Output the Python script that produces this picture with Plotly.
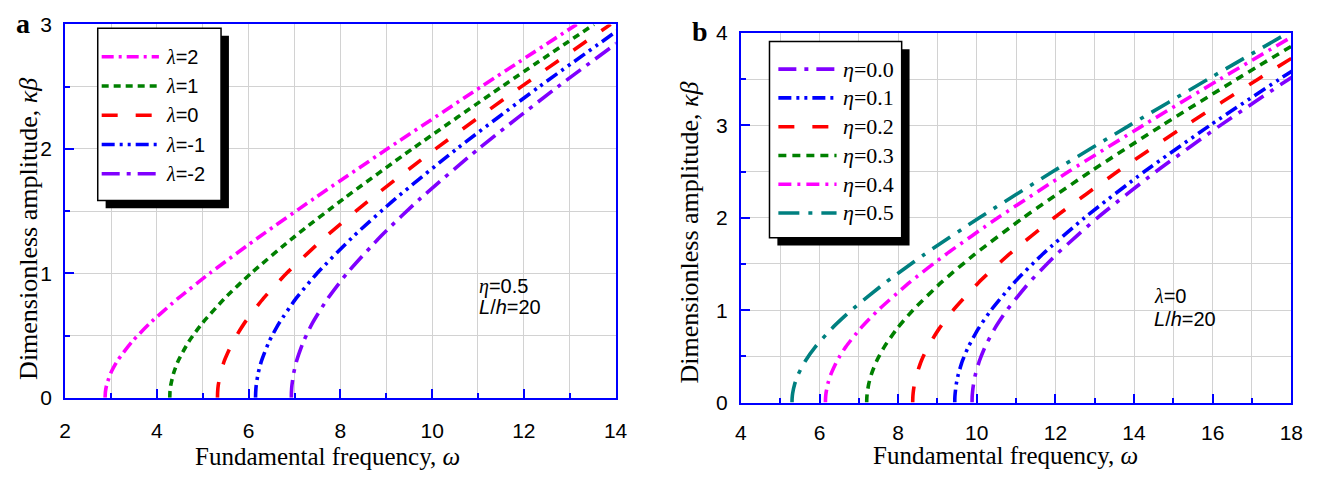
import plotly.graph_objects as go

W, H = 1325, 485

# ---------------- data ----------------
amp_a = [0, 0.05, 0.1, 0.2, 0.3, 0.45, 0.6, 0.8, 1.0, 1.3, 1.6, 2.0, 2.5, 3.0]
omega_lam_p2 = [2.870, 2.878, 2.902, 2.995, 3.144, 3.456, 3.850, 4.466, 5.151, 6.258, 7.422, 9.024, 11.073, 13.151]
omega_lam_p1 = [4.280, 4.285, 4.301, 4.365, 4.468, 4.693, 4.991, 5.480, 6.051, 7.017, 8.073, 9.567, 11.519, 13.528]
omega_lam_0 = [5.320, 5.324, 5.337, 5.388, 5.473, 5.658, 5.907, 6.326, 6.827, 7.696, 8.669, 10.075, 11.945, 13.893]
omega_lam_m1 = [6.150, 6.154, 6.165, 6.209, 6.283, 6.444, 6.664, 7.038, 7.492, 8.292, 9.202, 10.537, 12.337, 14.231]
omega_lam_m2 = [6.930, 6.933, 6.943, 6.983, 7.048, 7.192, 7.390, 7.729, 8.144, 8.886, 9.740, 11.010, 12.744, 14.585]
labels_a = ["λ=2", "λ=1", "λ=0", "λ=-1", "λ=-2"]

amp_b = [0, 0.05, 0.1, 0.2, 0.3, 0.45, 0.6, 0.8, 1.0, 1.3, 1.6, 2.0, 2.5, 3.0, 3.5, 4.0]
omega_eta_00 = [9.880, 9.882, 9.889, 9.917, 9.963, 10.066, 10.208, 10.456, 10.766, 11.338, 12.019, 13.070, 14.560, 16.196, 17.939, 19.759]
omega_eta_01 = [9.440, 9.442, 9.450, 9.479, 9.527, 9.634, 9.783, 10.041, 10.364, 10.956, 11.660, 12.740, 14.265, 15.932, 17.700, 19.543]
omega_eta_02 = [8.370, 8.373, 8.381, 8.414, 8.468, 8.589, 8.755, 9.043, 9.400, 10.049, 10.812, 11.969, 13.581, 15.322, 17.153, 19.049]
omega_eta_03 = [7.200, 7.203, 7.213, 7.251, 7.314, 7.453, 7.644, 7.972, 8.375, 9.098, 9.934, 11.182, 12.892, 14.715, 16.614, 18.565]
omega_eta_04 = [6.150, 6.154, 6.165, 6.209, 6.283, 6.444, 6.664, 7.038, 7.492, 8.292, 9.202, 10.537, 12.337, 14.231, 16.186, 18.183]
omega_eta_05 = [5.300, 5.304, 5.317, 5.369, 5.453, 5.639, 5.889, 6.309, 6.811, 7.682, 8.657, 10.064, 11.936, 13.885, 15.883, 17.913]
labels_b = ["η=0.0", "η=0.1", "η=0.2", "η=0.3", "η=0.4", "η=0.5"]

xticks_a = [2, 4, 6, 8, 10, 12, 14]
yticks_a = [0, 1, 2, 3]
xticks_b = [4, 6, 8, 10, 12, 14, 16, 18]
yticks_b = [0, 1, 2, 3, 4]

# ---------------- styles ----------------
MAGENTA, GREEN, RED, BLUE, VIOLET, TEAL = "#FF00FF", "#008000", "#FF0000", "#0000FF", "#8000FF", "#008080"
SANS = "Liberation Sans"
SERIF = "Liberation Serif"
LW = 3.6

style_a = [
    (MAGENTA, "12px,5px,3px,5px"),
    (GREEN, "7px,5px"),
    (RED, "16px,18px"),
    (BLUE, "13px,5px,3px,5px,3px,5px"),
    (VIOLET, "18px,7px,4px,7px"),
]
style_b = [
    (VIOLET, "18px,8px,4px,8px"),
    (BLUE, "13px,5px,3px,5px,3px,5px"),
    (RED, "16px,18px"),
    (GREEN, "8px,6px"),
    (MAGENTA, "13px,6px,3px,6px"),
    (TEAL, "21px,9px,4px,9px"),
]

def px(x):
    return x / W

def py(y):
    return 1 - y / H

fig = go.Figure()

series_a = [omega_lam_p2, omega_lam_p1, omega_lam_0, omega_lam_m1, omega_lam_m2]
for name, om, (col, dash) in zip(labels_a, series_a, style_a):
    fig.add_trace(go.Scatter(x=om, y=amp_a, mode="lines", name=name, xaxis="x", yaxis="y",
                             line=dict(color=col, width=LW, dash=dash, shape="spline", smoothing=0.6),
                             showlegend=False))

series_b = [omega_eta_00, omega_eta_01, omega_eta_02, omega_eta_03, omega_eta_04, omega_eta_05]
for name, om, (col, dash) in zip(labels_b, series_b, style_b):
    fig.add_trace(go.Scatter(x=om, y=amp_b, mode="lines", name=name, xaxis="x2", yaxis="y2",
                             line=dict(color=col, width=LW, dash=dash, shape="spline", smoothing=0.6),
                             showlegend=False))

def axis(rng, dom, ticks, minor_dtick, anchor, standoff):
    return dict(
        range=rng, domain=dom, anchor=anchor, tickvals=ticks,
        ticks="inside", ticklen=9, tickwidth=1.5, tickcolor=BLUE,
        showline=True, linecolor=BLUE, linewidth=2, mirror=True,
        showgrid=True, gridcolor="#d2d2d2", gridwidth=1, zeroline=False,
        minor=dict(dtick=minor_dtick, ticks="inside", ticklen=5, tickcolor=BLUE, tickwidth=1.5,
                   showgrid=True, gridcolor="#d2d2d2", gridwidth=1),
        tickfont=dict(family=SANS, size=21, color="black"),
        ticklabelstandoff=standoff,
    )

xa_dom = [px(60), px(618)]
ya_dom = [py(405), py(13)]
xb_dom = [px(745), px(1303)]
yb_dom = [py(410), py(22)]

xa = axis([2, 14], xa_dom, xticks_a, 1, "y", 13)
ya = axis([0, 3], ya_dom, yticks_a, 0.5, "x", 7)
xb = axis([4, 18], xb_dom, xticks_b, 1, "y2", 10)
yb = axis([0, 4], yb_dom, yticks_b, 0.5, "x2", 7)
xa["tick0"] = 2
xb["tick0"] = 4

shapes = []
annotations = []

def legend_box(x0, y0, x1, y1, off=8):
    shapes.append(dict(type="rect", xref="paper", yref="paper", layer="above",
                       x0=px(x0 + off), x1=px(x1 + off), y0=py(y1 + off), y1=py(y0 + off),
                       fillcolor="black", line=dict(width=0)))
    shapes.append(dict(type="rect", xref="paper", yref="paper", layer="above",
                       x0=px(x0), x1=px(x1), y0=py(y1), y1=py(y0),
                       fillcolor="white", line=dict(color="black", width=1.5)))

def legend_entries(styles, texts, lx0, lx1, tx, y0, dy, font):
    for i, ((col, dash), t) in enumerate(zip(styles, texts)):
        yy = y0 + i * dy
        shapes.append(dict(type="line", xref="paper", yref="paper", layer="above",
                           x0=px(lx0), x1=px(lx1), y0=py(yy), y1=py(yy),
                           line=dict(color=col, width=LW, dash=dash)))
        annotations.append(dict(x=px(tx), y=py(yy), xref="paper", yref="paper", text=t,
                                showarrow=False, xanchor="left", yanchor="middle", font=font))

# legend a
legend_box(93, 17, 218, 198)
texts_a = ['<span style="font-family:Liberation Serif"><i>λ</i></span>' + s[1:] for s in labels_a]
legend_entries(style_a, texts_a, 97, 155, 160, 47, 30.7, dict(family=SANS, size=20, color="black"))

# legend b
legend_box(774, 31, 908, 237)
texts_b = ['<i>η</i>' + s[1:] for s in labels_b]
legend_entries(style_b, texts_b, 783, 842, 846, 60, 30.2, dict(family=SERIF, size=22, color="black"))

def note(x, y, text, size=19, family=SANS, **kw):
    annotations.append(dict(x=px(x), y=py(y), xref="paper", yref="paper", text=text, showarrow=False,
                            font=dict(family=family, size=size, color="black"), **kw))

# inner notes
note(477, 288, '<span style="font-family:Liberation Serif"><i>η</i></span>=0.5', size=20, xanchor="left", yanchor="middle")
note(477, 310, '<i>L</i>/<i>h</i>=20', size=20, xanchor="left", yanchor="middle")
note(1162, 298, '<span style="font-family:Liberation Serif"><i>λ</i></span>=0', size=20, xanchor="left", yanchor="middle")
note(1162, 322, '<i>L</i>/<i>h</i>=20', size=20, xanchor="left", yanchor="middle")

# axis titles
note(326, 467, 'Fundamental frequency, <i>ω</i>', size=25, family=SERIF, xanchor="center", yanchor="middle")
note(1013, 466, 'Fundamental frequency, <i>ω</i>', size=25, family=SERIF, xanchor="center", yanchor="middle")
note(22, 228, 'Dimensionless amplitude, <i>κβ</i>', size=26, family=SERIF, xanchor="center", yanchor="middle", textangle=-90)
note(693, 232, 'Dimensionless amplitude, <i>κβ</i>', size=26, family=SERIF, xanchor="center", yanchor="middle", textangle=-90)

# panel letters
note(17, 12, '<b>a</b>', size=28, family=SERIF, xanchor="center", yanchor="middle")
note(704, 20, '<b>b</b>', size=28, family=SERIF, xanchor="center", yanchor="middle")

fig.update_layout(
    width=W, height=H, margin=dict(l=0, r=0, t=0, b=0),
    paper_bgcolor="white", plot_bgcolor="white",
    xaxis=xa, yaxis=ya, xaxis2=xb, yaxis2=yb,
    shapes=shapes, annotations=annotations, showlegend=False,
)

fig.write_html("out.html")
